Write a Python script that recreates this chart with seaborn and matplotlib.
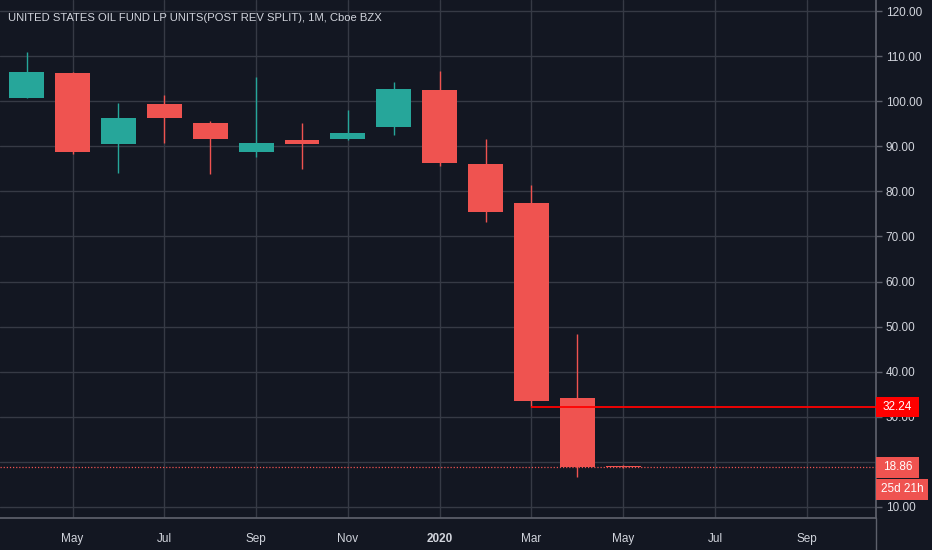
import numpy as np
import pandas as pd
import seaborn as sns
import matplotlib
matplotlib.use("Agg")
import matplotlib.pyplot as plt
from matplotlib.patches import Rectangle
from matplotlib.lines import Line2D
import matplotlib.transforms as mtransforms

# ---- data (monthly OHLC, Apr 2019 .. May 2020) ----
months = ["2019-04", "2019-05", "2019-06", "2019-07", "2019-08", "2019-09", "2019-10",
          "2019-11", "2019-12", "2020-01", "2020-02", "2020-03", "2020-04", "2020-05"]
opens  = [100.8, 106.3, 90.4, 99.4, 95.2, 88.7, 91.4, 91.6, 94.2, 102.4, 86.0, 77.5, 34.1, 19.1]
highs  = [111.0, 106.5, 99.5, 101.4, 95.6, 105.4, 95.2, 98.1, 104.3, 106.8, 91.6, 81.4, 48.4, 19.3]
lows   = [100.6, 88.3, 84.1, 90.8, 83.9, 87.7, 85.0, 91.4, 92.5, 85.6, 73.3, 32.24, 16.7, 18.6]
closes = [106.5, 88.7, 96.3, 96.2, 91.6, 90.8, 90.4, 93.0, 102.6, 86.4, 75.4, 33.6, 18.9, 18.86]

tick_idx = [1, 3, 5, 7, 9, 11, 13, 15, 17]
tick_labels = ["May", "Jul", "Sep", "Nov", "2020", "Mar", "May", "Jul", "Sep"]
y_ticks = [10, 20, 30, 40, 50, 60, 70, 80, 90, 100, 110, 120]
hidden_y_labels = [20]  # covered by the last-price label in the reference

title = "UNITED STATES OIL FUND LP UNITS(POST REV SPLIT), 1M, Cboe BZX"
last_price = 18.86
level_price = 32.24
level_start = 11
countdown = "25d 21h"

# ---- styling ----
BG = "#131722"
GRID = "#363a45"
TXT = "#d1d4dc"
UP = "#26a69a"
DOWN = "#ef5350"
AXIS = "#5d606b"

sns.set_theme(style="dark", rc={
    "axes.facecolor": BG, "figure.facecolor": BG,
    "axes.edgecolor": AXIS, "grid.color": GRID,
    "text.color": TXT, "xtick.color": TXT, "ytick.color": TXT,
})
plt.rcParams["font.family"] = ["Liberation Sans", "DejaVu Sans"]

df = pd.DataFrame({"month": months, "open": opens, "high": highs,
                   "low": lows, "close": closes})
df["idx"] = np.arange(len(df))
df["up"] = df["close"] >= df["open"]
df["color"] = np.where(df["up"], UP, DOWN)

fig = plt.figure(figsize=(9.32, 5.5), dpi=100)
ax = fig.add_axes([0.0, 32 / 550, 876 / 932, 1 - 32 / 550])

# wicks
ax.vlines(df["idx"], df["low"], df["high"], colors=df["color"], linewidth=1.0, zorder=3)
# bodies
body_bottom = df[["open", "close"]].min(axis=1)
body_h = (df["open"] - df["close"]).abs().clip(lower=0.25)
ax.bar(df["idx"], body_h, bottom=body_bottom, width=0.76, color=df["color"],
       edgecolor="none", zorder=4)

ax.set_xlim(-0.582, 18.51)
ax.set_ylim(7.56, 122.44)

ax.set_xticks(tick_idx)
ax.set_xticklabels(tick_labels)
ax.set_yticks(y_ticks)
ax.set_yticklabels(["" if v in hidden_y_labels else f"{v:.2f}" for v in y_ticks])
ax.yaxis.tick_right()
ax.grid(True, color=GRID, linewidth=1.0, zorder=0)
ax.set_axisbelow(True)
ax.tick_params(axis="x", length=4, width=1, color=AXIS, labelsize=8.5, pad=7)
ax.tick_params(axis="y", length=4, width=1, color=AXIS, labelsize=8.5, pad=3)
for lab in ax.get_xticklabels():
    if lab.get_text() == "2020":
        lab.set_fontweight("bold")

for side in ["top", "left"]:
    ax.spines[side].set_visible(False)
ax.spines["right"].set_color(AXIS)
ax.spines["bottom"].set_color(AXIS)
fig.add_artist(Line2D([876 / 932, 876 / 932], [0, 32 / 550], transform=fig.transFigure,
                      color=AXIS, linewidth=1))

# last price dotted line
ax.axhline(last_price, color=DOWN, linestyle=(0, (1, 1.5)), linewidth=0.9, zorder=2)
# horizontal level ray
ax.hlines(level_price, level_start, 18.51, colors="#ff0000", linewidth=1.3, zorder=5)

ax.text(0.009, 0.965, title, transform=ax.transAxes, fontsize=8.1, color=TXT,
        ha="left", va="center", zorder=10)

# price label boxes on the right scale
bt = mtransforms.blended_transform_factory(ax.transAxes, ax.transData)
px = 4.509  # pixels per unit
w1 = 43 / 876

def box(y_center, h_px, w, color, text):
    h = h_px / px
    ax.add_patch(Rectangle((1.0, y_center - h / 2), w, h, transform=bt,
                           facecolor=color, edgecolor="none", clip_on=False, zorder=20))
    ax.text(1.0 + w / 2, y_center, text, transform=bt, ha="center", va="center",
            color="white", fontsize=8.5, clip_on=False, zorder=21)

box(level_price, 20, w1, "#ff0000", f"{level_price:.2f}")
box(last_price, 21, w1, DOWN, f"{last_price:.2f}")
box(last_price - 22 / px, 21, 52 / 876, DOWN, countdown)

fig.savefig("out.png", dpi=100, facecolor=BG)
